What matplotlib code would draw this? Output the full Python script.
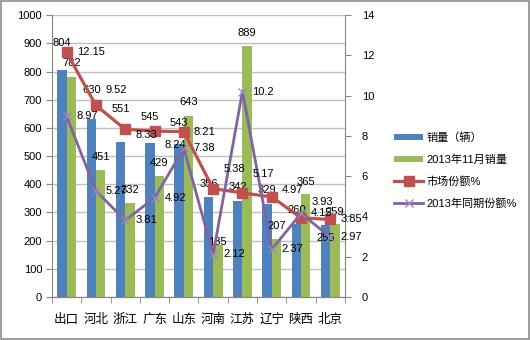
import numpy as np
import matplotlib.pyplot as plt
from matplotlib.patches import Rectangle

plt.rcParams['font.family'] = ['Liberation Sans', 'Noto Sans CJK SC', 'DejaVu Sans']

regions = ['出口', '河北', '浙江', '广东', '山东', '河南', '江苏', '辽宁', '陕西', '北京']
sales = [804, 630, 551, 545, 543, 356, 342, 329, 260, 255]
sales_2013 = [782, 451, 332, 429, 643, 185, 889, 207, 365, 259]
share = [12.15, 9.52, 8.33, 8.24, 8.21, 5.38, 5.17, 4.97, 3.93, 3.85]
share_2013 = [8.97, 5.27, 3.81, 4.92, 7.38, 2.12, 10.2, 2.37, 4.15, 2.97]

# label nudges (pixels) to follow the original placement
blue_up = [27, 29, 33, 26, 21, 13, 14, 14, 14, -13]
green_up = [14, 13, 13, 13, 14, 3, 13, 13, 12, 12]
red_dy = [0, 15, -6, -14, 0, 20, 19, 7, 16, 0]

blue = '#4F81BD'
green = '#9BBB59'
red = '#C0504D'
purple = '#8064A2'
axis_gray = '#868686'

fig = plt.figure(figsize=(5.3, 3.4), dpi=100)
fig.patches.append(Rectangle((0.001, 0.002), 0.997, 0.995, transform=fig.transFigure,
                             fill=False, edgecolor='#8c8c8c', linewidth=1.2))
ax = fig.add_axes([0.098, 0.1265, 0.553, 0.829])
ax2 = ax.twinx()

x = np.arange(len(regions))
w = 0.32
b1 = ax.bar(x - w / 2, sales, w, color=blue, label='销量（辆）', zorder=2)
b2 = ax.bar(x + w / 2, sales_2013, w, color=green, label='2013年11月销量', zorder=2)

for i in range(len(regions)):
    ax.annotate(str(sales[i]), (x[i] - w / 2, sales[i]), xytext=(0, blue_up[i]),
                textcoords='offset pixels', ha='center', va='center', fontsize=8, zorder=5)
    ax.annotate(str(sales_2013[i]), (x[i] + w / 2, sales_2013[i]), xytext=(0, green_up[i]),
                textcoords='offset pixels', ha='center', va='center', fontsize=8, zorder=5)

l1, = ax2.plot(x, share, color=red, linewidth=2.3, marker='s', markersize=7.5,
               label='市场份额%', zorder=3)
l2, = ax2.plot(x, share_2013, color=purple, linewidth=2, marker='x', markersize=6,
               markeredgecolor='#9a86bd', markeredgewidth=1, label='2013年同期份额%', zorder=3)

for i in range(len(regions)):
    ax2.annotate(f'{share[i]:g}', (x[i], share[i]), xytext=(10, red_dy[i]),
                 textcoords='offset pixels', ha='left', va='center', fontsize=8)
    ax2.annotate(f'{share_2013[i]:g}', (x[i], share_2013[i]), xytext=(10, 0),
                 textcoords='offset pixels', ha='left', va='center', fontsize=8)

ax.set_xlim(-0.5, len(regions) - 0.5)
ax.set_ylim(0, 1000)
ax.set_yticks(np.arange(0, 1001, 100))
ax2.set_ylim(0, 14)
ax2.set_yticks(np.arange(0, 15, 2))

ax.set_xticks(x)
ax.set_xticklabels(regions, fontsize=9)
ax.set_xticks(np.arange(-0.5, len(regions), 1), minor=True)
ax.tick_params(axis='x', which='major', length=0, pad=12)
ax.tick_params(axis='x', which='minor', length=4, color=axis_gray)
ax.tick_params(axis='y', length=4, color=axis_gray, labelsize=8, pad=3)
ax2.tick_params(axis='y', length=4, color=axis_gray, labelsize=8, pad=8)

ax.yaxis.grid(True, color='#c0c0c0', linewidth=1)
ax.set_axisbelow(True)
for a in (ax, ax2):
    a.spines['top'].set_visible(False)
    for s in ('left', 'right', 'bottom'):
        a.spines[s].set_color(axis_gray)
ax2.spines['left'].set_visible(False)
ax.spines['right'].set_visible(False)

fig.legend(handles=[b1, b2, l1, l2], loc='upper left', bbox_to_anchor=(0.725, 0.64),
           frameon=False, fontsize=8, handlelength=2.6, handleheight=0.5,
           labelspacing=1.0, handletextpad=0.3)

fig.savefig('out.png', dpi=100)
